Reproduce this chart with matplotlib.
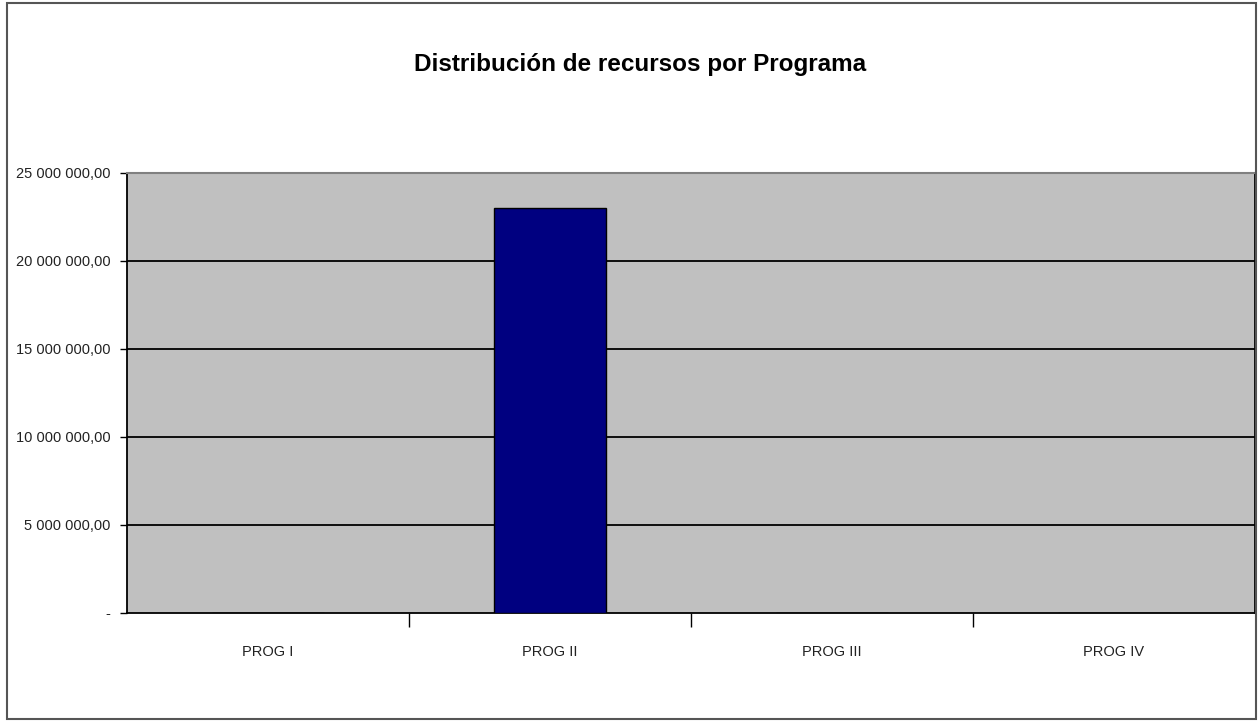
import matplotlib
matplotlib.use("Agg")
import matplotlib.pyplot as plt
from matplotlib.patches import Rectangle
from matplotlib.ticker import FuncFormatter, FixedLocator

programas = ["PROG I", "PROG II", "PROG III", "PROG IV"]
recursos = [0, 23000000, 0, 0]
ticks_y = [0, 5000000, 10000000, 15000000, 20000000, 25000000]

plt.rcParams["font.family"] = ["Liberation Sans Narrow", "Liberation Sans", "DejaVu Sans"]

W, H = 1258, 721
fig = plt.figure(figsize=(W / 100, H / 100), dpi=100)

# borde exterior del gráfico
fig.patches.append(Rectangle((7 / W, 2 / H), 1249 / W, 716 / H, transform=fig.transFigure,
                             fill=False, edgecolor="#555555", linewidth=1.5))

x0, x1, y_top, y_bot = 127, 1255, 173, 613
ax = fig.add_axes([x0 / W, 1 - y_bot / H, (x1 - x0) / W, (y_bot - y_top) / H])
ax.set_facecolor("#C0C0C0")

ax.bar(range(len(programas)), recursos, width=0.4, color="#000080",
       edgecolor="black", linewidth=1, zorder=3)

ax.set_xlim(-0.5, len(programas) - 0.5)
ax.set_ylim(0, 25000000)

ax.yaxis.set_major_locator(FixedLocator(ticks_y))


def fmt(v, pos):
    if v == 0:
        return "-"
    return f"{v:,.2f}".replace(",", " ").replace(".", ",")


ax.yaxis.set_major_formatter(FuncFormatter(fmt))
for t in ticks_y[1:-1]:
    ax.axhline(t, color="black", linewidth=1.3, zorder=1)

ax.set_xticks(range(len(programas)))
ax.set_xticklabels(programas)
ax.xaxis.set_minor_locator(FixedLocator([0.5, 1.5, 2.5]))
ax.tick_params(axis="x", which="major", length=0, pad=23, labelsize=10.5, labelcolor="#222222")
ax.tick_params(axis="x", which="minor", length=10, width=1, direction="out")
ax.tick_params(axis="y", length=5, width=1, direction="out", pad=7, labelsize=10.5, labelcolor="#222222")

for side in ["left", "bottom"]:
    ax.spines[side].set_color("black")
    ax.spines[side].set_linewidth(1.3)
ax.spines["top"].set_color("#808080")
ax.spines["top"].set_linewidth(1.5)
ax.spines["right"].set_color("black")
ax.spines["right"].set_linewidth(1.3)

fig.text(640 / W, 1 - 65 / H, "Distribución de recursos por Programa", ha="center", va="center",
         fontsize=17.5, fontweight="bold")

fig.savefig("out.png", dpi=100)
